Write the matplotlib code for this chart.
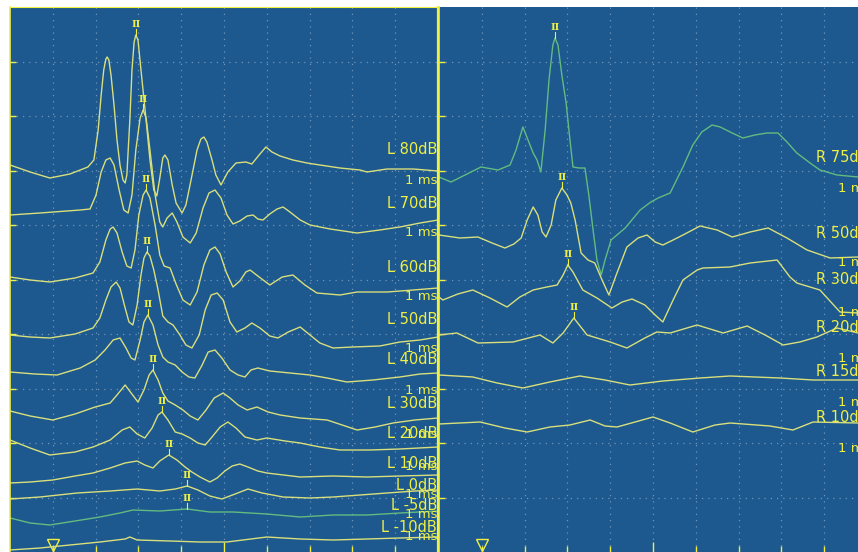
import numpy as np
import matplotlib
matplotlib.use("Agg")
import matplotlib.pyplot as plt

# ABR recordings, left and right ear.
# each point: (latency in ms, screen row; row 7 = top of screen, 552 = bottom)
L80 = [(0.00, 165), (0.47, 172), (0.93, 178), (1.40, 174), (1.82, 167), (1.96, 160),
       (2.06, 130), (2.13, 95), (2.19, 70), (2.24, 59), (2.27, 57), (2.31, 60),
       (2.36, 75), (2.43, 105), (2.50, 140), (2.57, 165), (2.64, 180), (2.69, 183),
       (2.73, 175), (2.80, 120), (2.85, 70), (2.90, 42), (2.94, 35), (2.99, 40),
       (3.06, 70), (3.18, 120), (3.27, 160), (3.36, 190), (3.43, 196), (3.50, 178),
       (3.57, 158), (3.62, 155), (3.69, 160), (3.79, 185), (3.88, 203), (4.02, 213),
       (4.11, 205), (4.23, 180), (4.37, 150), (4.46, 139), (4.53, 137), (4.60, 142),
       (4.72, 160), (4.81, 175), (4.93, 185), (5.09, 172), (5.28, 163), (5.51, 162),
       (5.65, 164), (5.82, 155), (5.98, 147), (6.12, 152), (6.31, 156), (6.61, 160),
       (6.94, 163), (7.24, 165), (7.71, 168), (8.18, 170), (8.34, 172), (8.81, 169),
       (9.42, 169), (10.00, 171)]
L70 = [(0.00, 215), (0.70, 213), (1.64, 210), (1.87, 209), (2.01, 195), (2.13, 172),
       (2.24, 160), (2.34, 158), (2.43, 165), (2.55, 190), (2.66, 210), (2.76, 213),
       (2.85, 195), (2.94, 150), (3.04, 118), (3.11, 110), (3.18, 118), (3.27, 150),
       (3.39, 195), (3.50, 222), (3.57, 227), (3.67, 218), (3.79, 213), (3.90, 222),
       (4.04, 237), (4.21, 243), (4.35, 233), (4.51, 208), (4.65, 193), (4.79, 190),
       (4.93, 198), (5.07, 215), (5.21, 224), (5.37, 221), (5.54, 216), (5.68, 215),
       (5.79, 219), (5.91, 220), (6.07, 214), (6.24, 209), (6.38, 207), (6.54, 212),
       (6.78, 220), (7.01, 225), (7.48, 229), (8.11, 233), (8.64, 230), (9.11, 227),
       (9.58, 223), (10.00, 220)]
L60 = [(0.00, 277), (0.47, 280), (0.93, 282), (1.52, 278), (1.94, 273), (2.10, 262),
       (2.24, 240), (2.34, 229), (2.41, 227), (2.50, 233), (2.62, 252), (2.73, 266),
       (2.83, 268), (2.92, 250), (3.01, 215), (3.11, 195), (3.18, 190), (3.27, 198),
       (3.39, 225), (3.50, 255), (3.60, 266), (3.74, 268), (3.88, 284), (4.04, 300),
       (4.21, 305), (4.37, 292), (4.53, 265), (4.67, 250), (4.79, 247), (4.91, 254),
       (5.05, 272), (5.21, 287), (5.37, 281), (5.51, 272), (5.61, 270), (5.79, 276),
       (6.07, 285), (6.36, 277), (6.61, 275), (6.89, 285), (7.17, 293), (7.71, 295),
       (8.11, 292), (8.81, 292), (9.42, 290), (10.00, 288)]
L50 = [(0.00, 335), (0.47, 337), (0.93, 338), (1.52, 334), (1.94, 328), (2.10, 318),
       (2.24, 300), (2.36, 287), (2.48, 282), (2.57, 288), (2.69, 308), (2.78, 322),
       (2.87, 325), (2.97, 305), (3.06, 275), (3.13, 258), (3.20, 252), (3.27, 256),
       (3.36, 270), (3.46, 290), (3.57, 316), (3.69, 322), (3.81, 325), (3.97, 335),
       (4.11, 345), (4.25, 348), (4.42, 335), (4.56, 310), (4.70, 295), (4.84, 293),
       (4.98, 300), (5.14, 322), (5.30, 332), (5.49, 328), (5.65, 323), (5.84, 328),
       (6.07, 336), (6.26, 338), (6.50, 332), (6.78, 327), (7.01, 335), (7.24, 343),
       (7.55, 348), (8.01, 347), (8.64, 346), (9.11, 342), (9.58, 340), (10.00, 337)]
L40 = [(0.00, 372), (0.58, 374), (1.10, 375), (1.64, 368), (1.99, 360), (2.22, 350),
       (2.41, 340), (2.57, 338), (2.71, 348), (2.83, 358), (2.92, 360), (3.04, 340),
       (3.13, 322), (3.22, 315), (3.34, 325), (3.46, 345), (3.57, 357), (3.69, 362),
       (3.86, 365), (4.02, 372), (4.18, 377), (4.32, 378), (4.49, 365), (4.63, 352),
       (4.79, 350), (4.95, 358), (5.14, 370), (5.33, 375), (5.49, 377), (5.63, 370),
       (5.79, 368), (6.07, 371), (6.54, 373), (7.01, 375), (7.41, 378), (7.87, 382),
       (8.48, 380), (9.11, 377), (9.58, 374), (10.00, 373)]
L30 = [(0.00, 411), (0.47, 416), (1.00, 420), (1.52, 414), (1.99, 407), (2.34, 403),
       (2.50, 395), (2.69, 385), (2.83, 393), (2.99, 402), (3.13, 390), (3.25, 375),
       (3.34, 370), (3.46, 380), (3.57, 393), (3.69, 401), (3.86, 405), (4.04, 410),
       (4.21, 416), (4.39, 420), (4.58, 410), (4.77, 398), (4.98, 393), (5.14, 398),
       (5.33, 405), (5.54, 410), (5.77, 407), (6.03, 412), (6.31, 415), (6.78, 418),
       (7.41, 420), (7.83, 426), (8.11, 430), (8.53, 427), (8.95, 423), (9.46, 420),
       (10.00, 418)]
L20 = [(0.00, 440), (0.47, 448), (0.93, 455), (1.52, 452), (1.94, 447), (2.34, 440),
       (2.62, 430), (2.80, 427), (2.97, 434), (3.15, 438), (3.32, 428), (3.46, 415),
       (3.55, 412), (3.69, 420), (3.86, 432), (4.02, 434), (4.21, 438), (4.39, 443),
       (4.56, 445), (4.72, 437), (4.91, 427), (5.09, 422), (5.28, 428), (5.49, 437),
       (5.77, 440), (6.00, 438), (6.43, 441), (6.78, 443), (7.24, 447), (7.71, 450),
       (8.41, 450), (9.11, 449), (10.00, 447)]
L10 = [(0.00, 483), (0.47, 482), (1.00, 480), (1.52, 476), (1.94, 473), (2.34, 468),
       (2.69, 463), (2.97, 461), (3.15, 465), (3.34, 468), (3.50, 461), (3.71, 455),
       (3.90, 460), (4.09, 467), (4.25, 472), (4.44, 477), (4.67, 482), (4.84, 478),
       (5.02, 471), (5.19, 466), (5.37, 464), (5.56, 467), (5.79, 471), (6.00, 473),
       (6.78, 477), (7.55, 476), (8.34, 477), (9.11, 476), (10.00, 475)]
L0 = [(0.00, 499), (0.70, 497), (1.57, 493), (2.34, 491), (2.97, 489), (3.50, 491),
      (3.86, 489), (4.14, 486), (4.39, 490), (4.67, 496), (4.95, 499), (5.26, 494),
      (5.56, 489), (5.89, 493), (6.38, 497), (7.01, 498), (7.55, 497), (8.18, 495),
      (8.81, 493), (9.46, 491), (10.00, 490)]
L_5 = [(0.00, 518), (0.47, 523), (0.93, 525), (1.52, 521), (2.10, 517), (2.57, 513),
       (2.87, 510), (3.50, 511), (4.14, 509), (4.67, 512), (5.21, 512), (6.00, 514),
       (6.78, 517), (7.55, 515), (8.34, 515), (9.11, 513), (10.00, 511)]
L_10 = [(0.00, 550), (0.70, 548), (1.40, 545), (2.10, 542), (2.69, 539), (2.80, 537),
        (2.97, 540), (3.74, 541), (4.44, 542), (5.07, 542), (6.00, 537), (6.78, 539),
        (7.55, 540), (8.34, 539), (9.11, 538), (10.00, 537)]

R75 = [(0.00, 177), (0.28, 182), (0.61, 175), (0.98, 167), (1.38, 170), (1.66, 165),
       (1.80, 150), (1.96, 127), (2.08, 140), (2.20, 153), (2.29, 160), (2.38, 172),
       (2.48, 130), (2.57, 80), (2.66, 45), (2.71, 38), (2.78, 45), (2.87, 75),
       (2.97, 103), (3.06, 140), (3.13, 167), (3.27, 168), (3.41, 168), (3.50, 195),
       (3.60, 230), (3.69, 260), (3.79, 275), (3.88, 260), (4.02, 240), (4.35, 228),
       (4.70, 210), (4.95, 202), (5.12, 198), (5.40, 193), (5.70, 167), (5.93, 145),
       (6.14, 132), (6.38, 125), (6.57, 127), (6.85, 133), (7.10, 138), (7.38, 135),
       (7.66, 133), (7.92, 133), (8.13, 142), (8.36, 153), (8.67, 163), (8.90, 170),
       (9.30, 175), (9.79, 177)]
R50 = [(0.00, 235), (0.49, 238), (0.91, 237), (1.24, 243), (1.54, 248), (1.75, 244),
       (1.92, 238), (2.06, 220), (2.20, 207), (2.31, 215), (2.41, 232), (2.50, 237),
       (2.62, 225), (2.73, 200), (2.87, 188), (2.99, 195), (3.08, 203), (3.18, 220),
       (3.32, 253), (3.48, 260), (3.64, 263), (3.81, 280), (3.97, 295), (4.14, 275),
       (4.39, 247), (4.65, 238), (4.86, 235), (5.05, 242), (5.23, 245), (5.47, 240),
       (5.70, 235), (6.10, 226), (6.50, 230), (6.85, 237), (7.27, 232), (7.69, 228),
       (8.13, 238), (8.60, 250), (9.14, 258), (9.79, 257)]
R30 = [(0.00, 297), (0.09, 300), (0.44, 294), (0.79, 290), (1.19, 298), (1.59, 307),
       (1.89, 297), (2.20, 290), (2.52, 287), (2.76, 285), (2.90, 275), (3.01, 265),
       (3.13, 272), (3.36, 290), (3.69, 298), (4.04, 308), (4.28, 302), (4.51, 299),
       (4.81, 305), (5.05, 315), (5.23, 322), (5.47, 300), (5.70, 280), (6.03, 270),
       (6.17, 268), (6.80, 267), (7.27, 263), (7.90, 260), (8.20, 277), (8.36, 283),
       (8.90, 290), (9.37, 312), (9.79, 313)]
R20 = [(0.00, 335), (0.42, 333), (0.91, 343), (1.73, 342), (2.36, 335), (2.66, 343),
       (2.90, 333), (3.15, 318), (3.46, 335), (4.00, 342), (4.39, 348), (4.81, 338),
       (5.09, 332), (5.40, 333), (6.03, 325), (6.64, 333), (7.20, 326), (7.62, 335),
       (8.04, 345), (8.43, 342), (8.83, 337), (9.30, 328), (9.79, 333)]
R15 = [(0.00, 375), (0.79, 377), (1.36, 383), (1.96, 388), (2.59, 382), (3.29, 376),
       (3.88, 380), (4.46, 385), (5.23, 381), (6.10, 378), (6.80, 376), (7.97, 378),
       (8.74, 380), (9.79, 380)]
R10 = [(0.00, 424), (0.96, 422), (1.54, 428), (2.06, 432), (2.59, 427), (3.06, 425),
       (3.53, 420), (3.88, 426), (4.16, 427), (5.00, 417), (5.40, 423), (5.93, 432),
       (6.45, 425), (6.80, 423), (7.73, 426), (8.27, 430), (8.74, 422), (9.79, 423)]

left_names = ["L 80dB", "L 70dB", "L 60dB", "L 50dB", "L 40dB", "L 30dB",
              "L 20dB", "L 10dB", "L 0dB", "L -5dB", "L -10dB"]
left_waves = [L80, L70, L60, L50, L40, L30, L20, L10, L0, L_5, L_10]
# wave II latency (ms), None where no wave II was marked
left_ii = [2.94, 3.11, 3.18, 3.20, 3.22, 3.34, 3.55, 3.71, 4.14, 4.14, None]

right_names = ["R 75dB", "R 50dB", "R 30dB", "R 20dB", "R 15dB", "R 10dB"]
right_waves = [R75, R50, R30, R20, R15, R10]
right_ii = [2.71, 2.87, 3.01, 3.15, None, None]

BG = "#1d588e"
TRACE = "#d8df7c"
GREEN = "#62bb80"
TXT = "#efef45"
GRID = "#6f95ba"

W, H = 858, 552
fig = plt.figure(figsize=(W / 100, H / 100), dpi=100, facecolor="white")


def panel(x0):
    ax = fig.add_axes([x0 / W, 0, 428 / W, 545 / H])
    ax.set_facecolor(BG)
    ax.set_xlim(0, 10)
    ax.set_ylim(552, 7)
    ax.set_xticks([5])
    ax.set_xticks([1, 2, 3, 4, 6, 7, 8, 9], minor=True)
    ax.set_yticks(np.arange(61.5, 550, 54.5))
    ax.grid(which="both", color=GRID, ls=(0, (1, 4)), lw=0.9)
    ax.tick_params(which="both", direction="in", colors=TXT,
                   labelbottom=False, labelleft=False, width=1)
    ax.tick_params(axis="x", which="major", length=7)
    ax.tick_params(axis="x", which="minor", length=4)
    ax.tick_params(axis="y", length=4)
    for s in ax.spines.values():
        s.set_visible(False)
    ax.spines["left"].set_visible(True)
    ax.spines["left"].set_color(TXT)
    ax.spines["left"].set_linewidth(1.2)
    # stimulus onset
    ax.plot(1.0, 545, marker="v", ms=8, mfc="none", mec=TXT, mew=1, clip_on=False)
    return ax


def draw_waves(ax, waves, ii, colors):
    for pts, lat, c in zip(waves, ii, colors):
        t, y = np.array(pts, dtype=float).T
        ax.plot(t, y, color=c, lw=1.0)
        if lat is None:
            continue
        yp = np.interp(lat, t, y)
        ax.plot([lat, lat], [yp - 6, yp], color=TXT, lw=0.8)
        ax.text(lat, yp - 6, "II", color=TXT, fontsize=7, family="DejaVu Serif",
                fontweight="bold", ha="center", va="bottom")


axl = panel(10)
axl.spines["top"].set_visible(True)
axl.spines["top"].set_color(TXT)
axl.spines["top"].set_linewidth(0.8)
axl.spines["right"].set_visible(True)
axl.spines["right"].set_color(TXT)
axl.spines["right"].set_linewidth(1.6)

lcol = [TRACE] * len(left_waves)
lcol[9] = GREEN
draw_waves(axl, left_waves, left_ii, lcol)

# channel labels sit at the right end of each trace, "1 ms" is the time scale
name_rows = [150, 203, 267, 319, 359, 403, 433, 464, 486, 506, 527]
ms_rows = [180, 233, 297, 348, 390, 435, 466, 494, 515, 537]
for name, row in zip(left_names, name_rows):
    axl.text(9.98, row, name, color=TXT, fontsize=10.5, ha="right", va="center")
for row in ms_rows:
    axl.text(9.98, row, "1 ms", color=TXT, fontsize=9.5, ha="right", va="center")

axr = panel(439)
rcol = [TRACE] * len(right_waves)
rcol[0] = GREEN
draw_waves(axr, right_waves, right_ii, rcol)

r_name_rows = [158, 233, 280, 328, 372, 418]
r_ms_rows = [188, 263, 312, 358, 403, 448]
for name, row in zip(right_names, r_name_rows):
    axr.text(8.81, row, name, color=TXT, fontsize=10.5, ha="left", va="center")
for row in r_ms_rows:
    axr.text(9.32, row, "1 ms", color=TXT, fontsize=9.5, ha="left", va="center")

fig.savefig("out.png", dpi=100, facecolor="white")
